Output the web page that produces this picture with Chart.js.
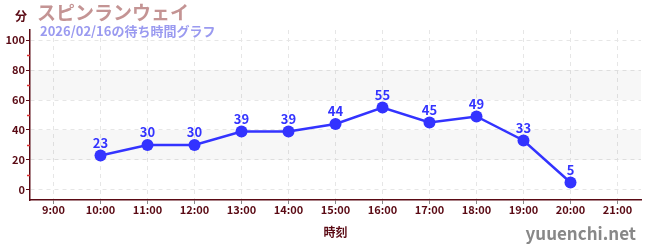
<!DOCTYPE html>
<html>
<head>
<meta charset="utf-8">
<script src="https://cdn.jsdelivr.net/npm/chart.js@4"></script>
<style>
  html, body { margin: 0; padding: 0; background: #fff; }
  #wrap { width: 650px; height: 250px; position: relative; }
</style>
</head>
<body>
<div id="wrap"><canvas id="waitChart" width="650" height="250"></canvas></div>
<script>
const hours = ['9:00', '10:00', '11:00', '12:00', '13:00', '14:00', '15:00', '16:00', '17:00', '18:00', '19:00', '20:00', '21:00'];
const waitMinutes = [null, 23, 30, 30, 39, 39, 44, 55, 45, 49, 33, 5, null];
const yTicks = [0, 20, 40, 60, 80, 100];
const minorTicks = [10, 30, 50, 70, 90];
const bands = [[20, 40], [60, 80]];

const titleText = 'スピンランウェイ';
const subtitleText = '2026/02/16の待ち時間グラフ';
const unitText = '分';
const siteText = 'yuuenchi.net';

const FONT = '"Noto Sans CJK JP", "Noto Sans", sans-serif';
const maroon = '#5a0a14';
const blue = '#3333ff';

const decorPlugin = {
    id: 'decor',
    beforeDatasetsDraw(chart) {
        const { ctx, chartArea, scales } = chart;
        const y = scales.y;
        ctx.save();
        ctx.fillStyle = 'rgba(0,0,0,0.03)';
        bands.forEach(b => {
            const top = y.getPixelForValue(b[1]);
            const bot = y.getPixelForValue(b[0]);
            ctx.fillRect(chartArea.left, top, chartArea.right - chartArea.left, bot - top);
        });
        ctx.restore();
    },
    afterDraw(chart) {
        const { ctx, chartArea, scales } = chart;
        const y = scales.y;
        ctx.save();
        // small red ticks between the labelled ones
        ctx.strokeStyle = '#e03030';
        ctx.lineWidth = 1.5;
        minorTicks.forEach(v => {
            const py = Math.round(y.getPixelForValue(v)) + 0.5;
            ctx.beginPath();
            ctx.moveTo(chartArea.left - 3, py);
            ctx.lineTo(chartArea.left, py);
            ctx.stroke();
        });
        // value above each point
        const meta = chart.getDatasetMeta(0);
        ctx.fillStyle = blue;
        ctx.font = 'bold 13px ' + FONT;
        ctx.textAlign = 'center';
        ctx.textBaseline = 'bottom';
        meta.data.forEach((pt, i) => {
            const v = waitMinutes[i];
            if (v === null) return;
            ctx.fillText(String(v), pt.x, pt.y - 6);
        });
        // header texts
        ctx.textAlign = 'left';
        ctx.textBaseline = 'alphabetic';
        ctx.fillStyle = maroon;
        ctx.font = 'bold 12px ' + FONT;
        ctx.fillText(unitText, 15, 21);
        ctx.fillStyle = '#c49494';
        ctx.font = 'bold 19px ' + FONT;
        ctx.fillText(titleText, 37, 20);
        ctx.fillStyle = '#9a9af0';
        ctx.font = 'bold 13px ' + FONT;
        ctx.fillText(subtitleText, 40, 36);
        // site name
        ctx.fillStyle = '#888888';
        ctx.font = 'bold 17px ' + FONT;
        ctx.textAlign = 'right';
        ctx.fillText(siteText, 636, 240);
        ctx.restore();
    }
};

new Chart(document.getElementById('waitChart').getContext('2d'), {
    type: 'line',
    data: {
        labels: hours,
        datasets: [{
            data: waitMinutes,
            borderColor: blue,
            backgroundColor: blue,
            borderWidth: 2.5,
            pointRadius: 6,
            pointHoverRadius: 6,
            pointBackgroundColor: blue,
            pointBorderWidth: 0,
            tension: 0,
            spanGaps: false
        }]
    },
    options: {
        responsive: false,
        animation: false,
        layout: { padding: { top: 30, right: 9, bottom: 10, left: 0 } },
        plugins: {
            legend: { display: false },
            tooltip: { enabled: false },
            title: { display: false }
        },
        scales: {
            x: {
                offset: true,
                afterFit: axis => { axis.height = 40; },
                grid: {
                    display: true,
                    color: '#e6e6e6',
                    offset: false,
                    tickColor: '#888888',
                    tickLength: 4,
                    drawOnChartArea: true
                },
                border: { color: maroon, width: 1.5, dash: [4, 4] },
                ticks: {
                    color: maroon,
                    font: { family: FONT, size: 11, weight: 'bold' },
                    padding: -1,
                    maxRotation: 0,
                    autoSkip: false
                },
                title: {
                    display: true,
                    text: '時刻',
                    color: maroon,
                    font: { family: FONT, size: 12, weight: 'bold' },
                    padding: { top: 3, bottom: 0 }
                }
            },
            y: {
                min: -6.67,
                max: 106.67,
                afterFit: axis => { axis.width = 30; },
                afterBuildTicks: axis => { axis.ticks = yTicks.map(v => ({ value: v })); },
                grid: {
                    color: '#e6e6e6',
                    tickColor: maroon,
                    tickLength: 4
                },
                border: { color: maroon, width: 1.5, dash: [4, 4] },
                ticks: {
                    color: maroon,
                    font: { family: FONT, size: 11, weight: 'bold' },
                    padding: 1
                }
            }
        }
    },
    plugins: [decorPlugin]
});
</script>
</body>
</html>
